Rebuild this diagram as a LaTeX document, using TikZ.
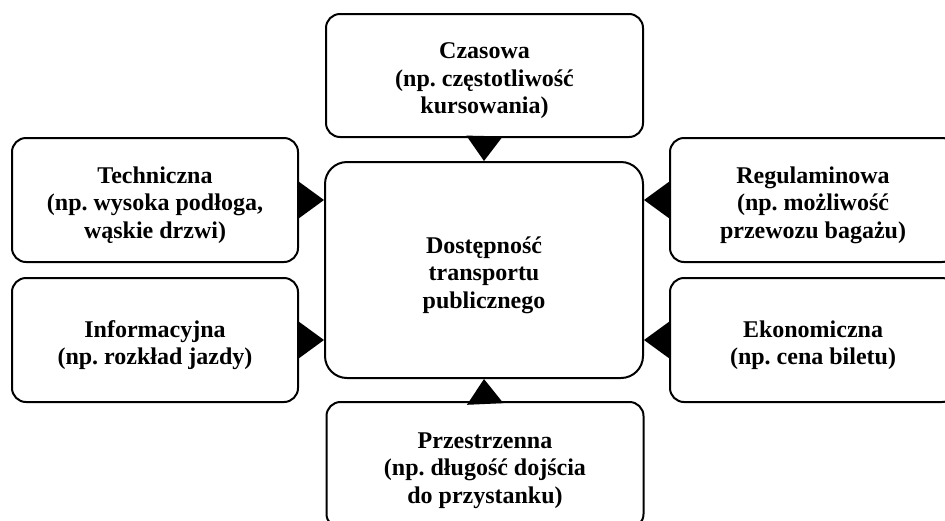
\documentclass[tikz,border=0pt]{standalone}
\usepackage{fontspec}
\setmainfont{Liberation Serif}
\frenchspacing
\usetikzlibrary{arrows.meta}

\newcommand{\topstrut}{\rule{0pt}{13.4pt}}

\tikzset{
    box/.style={draw, line width=1pt, rounded corners=7pt, align=center,
        inner sep=0pt, font=\fontsize{12}{13.8}\selectfont\bfseries},
    sidebox/.style={box, minimum width=143pt, minimum height=62pt},
    endbox/.style={box, minimum width=158.5pt, minimum height=61.5pt},
    link/.style={line width=1pt, -{Triangle[length=12.5pt,width=18pt]}}
}

\begin{document}
\begin{tikzpicture}[x=0.5pt,y=-0.5pt]
    \useasboundingbox (0,0) rectangle (945,520);

    \node[box, minimum width=159pt, minimum height=108pt, rounded corners=11pt]
        (main) at (484,270) {\topstrut Dostępność\\transportu\\publicznego};

    \node[endbox] (czas) at (484.5,75.5) {\topstrut Czasowa\\(np. częstotliwość\\kursowania)};
    \node[endbox, minimum height=63pt] (przes) at (485,465) {\topstrut Przestrzenna\\(np. długość dojścia\\do przystanku)};

    \node[sidebox] (tech) at (155,200) {\topstrut Techniczna\\(np. wysoka podłoga,\\wąskie drzwi)};
    \node[sidebox] (info) at (155,340) {\topstrut Informacyjna\\(np. rozkład jazdy)};
    \node[sidebox] (regul) at (813,200) {\topstrut Regulaminowa\\(np. możliwość\\przewozu bagażu)};
    \node[sidebox] (ekon) at (813,340) {\topstrut Ekonomiczna\\(np. cena biletu)};

    \draw[link] (czas.south) -- (main.north);
    \draw[link] (przes.north) -- (main.south);
    \draw[link] (tech.east) -- (tech.east -| main.west);
    \draw[link] (info.east) -- (info.east -| main.west);
    \draw[link] (regul.west) -- (regul.west -| main.east);
    \draw[link] (ekon.west) -- (ekon.west -| main.east);
\end{tikzpicture}
\end{document}
